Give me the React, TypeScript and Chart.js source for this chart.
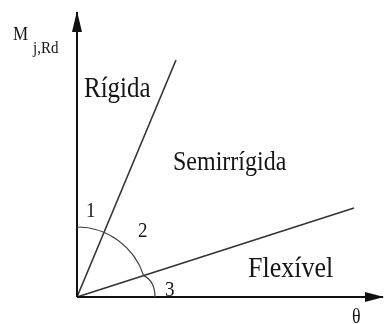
import React, { useEffect, useRef } from "react";
import { Chart, registerables } from "chart.js";

Chart.register(...registerables);

// Data (units: rotation θ on x, moment M on y, arbitrary scale)
const xAxisLine = [{ x: 0, y: 0 }, { x: 306, y: 0 }];
const yAxisLine = [{ x: 0, y: 0 }, { x: 0, y: 285 }];
const rigidBoundary = [{ x: 0, y: 0 }, { x: 99, y: 237 }];
const flexibleBoundary = [{ x: 0, y: 0 }, { x: 277, y: 89 }];

const regionLabels = ["Rígida", "Semirrígida", "Flexível"];
const angleLabels = ["1", "2", "3"];
const axisLabelY = "M";
const axisLabelYSub = "j,Rd";
const axisLabelX = "θ";

// Label anchor positions (data units)
const regionLabelPos = [
  { x: 7, y: 200 },
  { x: 96, y: 127 },
  { x: 171, y: 20 },
];
const regionLabelSize = [25, 24, 26];
const angleLabelPos = [
  { x: 9, y: 80 },
  { x: 61, y: 60 },
  { x: 88, y: 1 },
];

const FONT = '"Liberation Serif", "DejaVu Serif", serif';

function drawText(ctx: CanvasRenderingContext2D, t: string, px: number, py: number, size: number, sy = 1.15) {
  ctx.save();
  ctx.translate(px, py);
  ctx.scale(1, sy);
  ctx.font = `${size}px ${FONT}`;
  ctx.fillText(t, 0, 0);
  ctx.restore();
}

const drawingPlugin = {
  id: "drawing",
  afterDatasetsDraw(chart: any) {
    const { ctx, scales } = chart;
    const X = (v: number) => scales.x.getPixelForValue(v);
    const Y = (v: number) => scales.y.getPixelForValue(v);
    ctx.save();

    // arrow heads
    ctx.fillStyle = "#111";
    const xt = xAxisLine[1];
    ctx.beginPath();
    ctx.moveTo(X(xt.x) + 1, Y(xt.y));
    ctx.lineTo(X(xt.x) - 18, Y(xt.y) - 5);
    ctx.lineTo(X(xt.x) - 18, Y(xt.y) + 5);
    ctx.closePath();
    ctx.fill();
    const yt = yAxisLine[1];
    ctx.beginPath();
    ctx.moveTo(X(yt.x), Y(yt.y) - 1);
    ctx.lineTo(X(yt.x) - 5, Y(yt.y) + 20);
    ctx.lineTo(X(yt.x) + 5, Y(yt.y) + 20);
    ctx.closePath();
    ctx.fill();

    // angle arcs
    const ox = X(0), oy = Y(0);
    const a2 = Math.atan2(flexibleBoundary[1].y, flexibleBoundary[1].x);
    const r1 = X(70) - X(0);
    ctx.strokeStyle = "#444";
    ctx.lineWidth = 1.2;
    ctx.beginPath();
    ctx.arc(ox, oy, r1, -Math.PI / 2, -a2);
    const ex = ox + r1 * Math.cos(a2);
    const ey = oy - r1 * Math.sin(a2);
    const r3 = X(78) - X(0);
    ctx.moveTo(ex, ey);
    ctx.quadraticCurveTo(ox + r3, oy - 16, ox + r3, oy);
    ctx.stroke();

    // text
    ctx.fillStyle = "#151515";
    ctx.textAlign = "left";
    ctx.textBaseline = "alphabetic";
    regionLabels.forEach((t, i) => {
      drawText(ctx, t, X(regionLabelPos[i].x), Y(regionLabelPos[i].y), regionLabelSize[i]);
    });
    angleLabels.forEach((t, i) => {
      drawText(ctx, t, X(angleLabelPos[i].x), Y(angleLabelPos[i].y), 19);
    });
    drawText(ctx, axisLabelY, X(-64), Y(257), 17);
    drawText(ctx, axisLabelYSub, X(-44), Y(244), 15);
    drawText(ctx, axisLabelX, X(275), Y(-26), 18);
    ctx.restore();
  },
};

export default function App() {
  const ref = useRef<HTMLCanvasElement>(null);
  useEffect(() => {
    if (!ref.current) return;
    const chart = new Chart(ref.current, {
      type: "scatter",
      data: {
        datasets: [
          { data: xAxisLine, showLine: true, borderColor: "#111", borderWidth: 2, pointRadius: 0 },
          { data: yAxisLine, showLine: true, borderColor: "#111", borderWidth: 2, pointRadius: 0 },
          { data: rigidBoundary, showLine: true, borderColor: "#333", borderWidth: 1.6, pointRadius: 0 },
          { data: flexibleBoundary, showLine: true, borderColor: "#333", borderWidth: 1.6, pointRadius: 0 },
        ],
      },
      options: {
        animation: false,
        responsive: false,
        maintainAspectRatio: false,
        layout: { padding: 0 },
        plugins: { legend: { display: false }, tooltip: { enabled: false } },
        scales: {
          x: { type: "linear", min: -77, max: 307, display: false },
          y: { type: "linear", min: -27, max: 297, display: false },
        },
      },
      plugins: [drawingPlugin],
    });
    return () => chart.destroy();
  }, []);
  return (
    <div style={{ position: "fixed", left: 0, top: 0, width: 384, height: 324, background: "#fff" }}>
      <canvas ref={ref} width={384} height={324} style={{ width: 384, height: 324 }} />
    </div>
  );
}
